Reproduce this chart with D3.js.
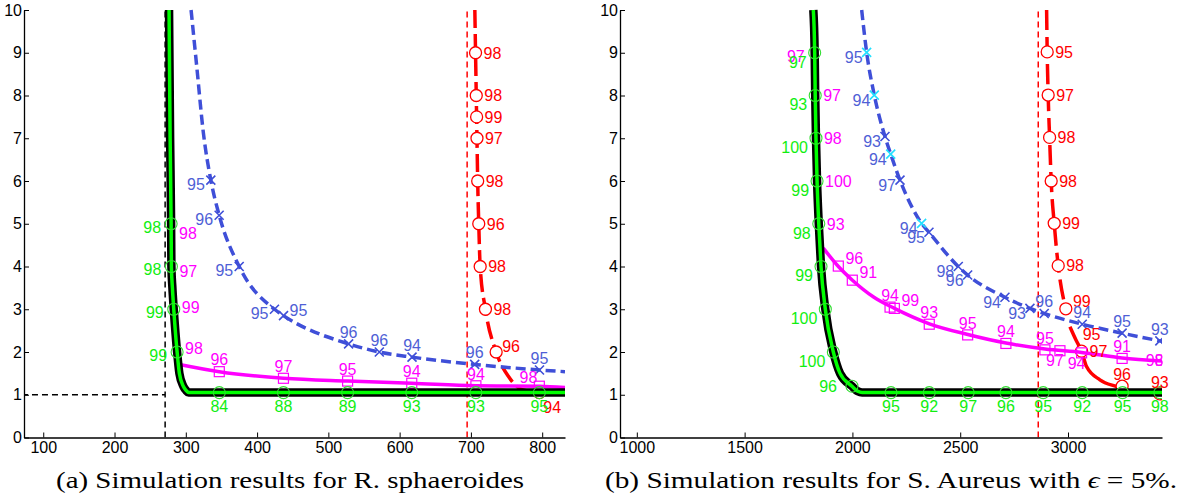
<!DOCTYPE html>
<html>
<head>
<meta charset="utf-8">
<script src="https://cdn.jsdelivr.net/npm/d3@7"></script>
<style>
  body { margin: 0; background: #fff; }
  svg { display: block; }
  .tick text { font: 16px 'Liberation Sans', Arial, sans-serif; fill: #000; }
  .lab { font: 16px 'Liberation Sans', Arial, sans-serif; }
</style>
</head>
<body>
<svg id="chart" width="1181" height="500"></svg>
<script>
// ---- (a) R. sphaeroides ----
const rsXTicks = [100, 200, 300, 400, 500, 600, 700, 800];
const rsCutX = 271, rsRedCutX = 694.7;

const rsCurveX = [276.5, 278, 279.4, 279.8, 281.2, 283.1, 287.8, 291, 296.5, 300.5, 304, 330, 832];
const rsCurveY = [10, 7, 5, 4, 3.5, 3, 2, 1.5, 1.2, 1.1, 1.05, 1.05, 1.05];

const rsGreenX = [279.4, 279.8, 283.1, 287.8, 347, 437, 527, 617, 707, 796];
const rsGreenY = [5, 4, 3, 2, 1.05, 1.05, 1.05, 1.05, 1.05, 1.05];
const rsGreenLab = ['98', '98', '99', '99', '84', '88', '89', '93', '93', '95'];

const rsMagLineX = [291, 347, 437, 527, 617, 707, 796, 832];
const rsMagLineY = [1.71, 1.54, 1.385, 1.32, 1.27, 1.21, 1.2, 1.17];
const rsMagX = [279.4, 279.8, 283.1, 287.8, 347, 437, 527, 617, 707, 796];
const rsMagY = [4.78, 3.9, 3.05, 2.09, 1.54, 1.385, 1.32, 1.27, 1.21, 1.2];
const rsMagLab = ['98', '97', '99', '98', '96', '97', '95', '94', '94', '98'];

const rsBlueLineX = [307.4, 315.4, 324.7, 335.1, 346.8, 374.9, 424.4, 437.1, 528.4, 571.5, 617.4, 705.3, 796.2, 832];
const rsBlueLineY = [10, 8.67, 7.12, 6.02, 5.2, 4.0, 3.0, 2.85, 2.19, 2.0, 1.88, 1.71, 1.58, 1.54];
const rsBlueX = [335.1, 346.8, 374.9, 424.4, 437.1, 528.4, 571.5, 617.4, 705.3, 796.2];
const rsBlueY = [6.02, 5.2, 4.0, 3.0, 2.85, 2.19, 2.0, 1.88, 1.71, 1.58];
const rsBlueLab = ['95', '96', '95', '95', '95', '96', '96', '94', '96', '95'];

const rsRedLineX = [705.5, 706.5, 707.5, 708, 708.5, 709.5, 711, 713, 720.4, 735.4, 753, 772, 796];
const rsRedLineY = [10, 9, 8, 7.5, 7, 6, 5, 4, 3, 2, 1.42, 1.12, 1.05];
const rsRedX = [706.5, 707.5, 708, 708.5, 709.5, 711, 713, 720.4, 735.4, 796];
const rsRedY = [9, 8, 7.5, 7, 6, 5, 4, 3, 2, 1.05];
const rsRedLab = ['98', '98', '99', '97', '98', '96', '98', '98', '96', '94'];

// ---- (b) S. Aureus ----
const saXTicks = [1000, 1500, 2000, 2500, 3000];
const saRedCutX = 2862;

const saCurveX = [1818.7, 1825, 1827.5, 1831, 1836, 1844, 1854.4, 1874.4, 1911.5, 1942.6, 1998, 2025, 2045, 2100, 3436];
const saCurveY = [10, 9, 8, 7, 6, 5, 4, 3, 2, 1.5, 1.2, 1.08, 1.05, 1.05, 1.05];

const saGreenX = [1825, 1827.5, 1831, 1836, 1844, 1854.4, 1874.4, 1911.5, 1998, 2179, 2356.5, 2537, 2712, 2885, 3066, 3253, 3426];
const saGreenY = [9, 8, 7, 6, 5, 4, 3, 2, 1.2, 1.05, 1.05, 1.05, 1.05, 1.05, 1.05, 1.05, 1.05];
const saGreenLab = ['97', '93', '100', '99', '98', '99', '100', '100', '96', '95', '92', '97', '96', '95', '92', '95', '98'];

const saMagLineX = [1865, 1935, 2000, 2100, 2195, 2357, 2535, 2712, 2893, 3063, 3251, 3436];
const saMagLineY = [4.43, 4.0, 3.68, 3.28, 3.02, 2.66, 2.41, 2.21, 2.07, 1.99, 1.86, 1.79];
const saMagX = [1825, 1827.5, 1831, 1836, 1844, 1934.6, 1999.5, 2174.6, 2194.5, 2356.5, 2534.5, 2712, 2893, 2962.6, 3063, 3251, 3434];
const saMagY = [9, 8, 7, 6, 5, 4.01, 3.68, 3.05, 3.02, 2.65, 2.40, 2.2, 2.05, 2.03, 1.98, 1.85, 1.81];
const saMagLab = ['97', '97', '98', '100', '93', '96', '91', '94', '99', '93', '95', '94', '95', '97', '94', '91', '98'];

const saBlueLineX = [2043, 2066, 2101.5, 2151, 2177.6, 2220.7, 2321, 2355, 2491, 2534.5, 2707.5, 2823.4, 2889.7, 3066, 3251, 3426, 3436];
const saBlueLineY = [10, 9.01, 8.01, 7.04, 6.63, 6.02, 5.01, 4.8, 4.0, 3.8, 3.28, 3.02, 2.9, 2.65, 2.44, 2.26, 2.25];
const saBlueX = saBlueLineX.slice(1, 16);
const saBlueY = saBlueLineY.slice(1, 16);
const saBlueLab = ['95', '94', '93', '94', '97', '94', '95', '98', '96', '94', '93', '96', '94', '95', '93'];
const saBlueCyan = [1, 1, 0, 1, 0, 1, 0, 0, 0, 0, 0, 0, 0, 0, 0];

const saRedUpX = [2900.8, 2903.5, 2908, 2914.6, 2922, 2936, 2954.6, 2990];
const saRedUpY = [10, 9.02, 8.01, 7.02, 6.0, 5.01, 4.02, 3.01];
const saRedLoX = [3009, 3037, 3063, 3086, 3148, 3225, 3301, 3370, 3426];
const saRedLoY = [2.59, 2.28, 2.02, 1.66, 1.35, 1.19, 1.07, 1.03, 1.02];
const saRedX = [2903.5, 2908, 2914.6, 2922, 2936, 2954.6, 2990, 3063, 3251, 3426];
const saRedY = [9.02, 8.01, 7.02, 6.0, 5.01, 4.02, 3.01, 2.02, 1.2, 1.02];
const saRedLab = ['95', '97', '98', '98', '99', '98', '99', '97', '96', '93'];
const saRedExtraLab = { x: 3040, y: 2.3, text: '95' };

// label placement: [anchor, dx, dy]
const place = {
  l: ['end', -10, 3], lb: ['end', -8, 9], l2: ['end', -15, 0], ll: ['end', -4, 5], lm: ['end', -6, 4],
  r: ['start', 8, 0], r2: ['start', 6, -6], rb: ['start', 4, 15], ar: ['middle', 16, -8],
  a: ['middle', 0, -12], al: ['end', -2, -9], b: ['middle', 0, 14], bm: ['middle', -5, 10], c: ['middle', -7, 0],
  rr: ['start', 6, -5]
};

const rsGreenPl = ['l', 'l', 'l', 'l', 'b', 'b', 'b', 'b', 'b', 'b'];
const rsMagPl = ['r', 'r', 'r', 'r', 'a', 'a', 'a', 'a', 'a', 'al'];
const rsBluePl = ['lm', 'lm', 'lm', 'lm', 'rr', 'a', 'a', 'a', 'a', 'a'];
const rsRedPl = ['r', 'r', 'r', 'r', 'r', 'r', 'r', 'r', 'r2', 'rb'];
const saGreenPl = ['lb', 'lb', 'lb', 'lb', 'lb', 'lb', 'lb', 'lb', 'l2', 'b', 'b', 'b', 'b', 'b', 'b', 'b', 'b'];
const saMagPl = ['l', 'r', 'r', 'r', 'r', 'ar', 'ar', 'a', 'ar', 'a', 'a', 'a', 'a', 'bm', 'bm', 'a', 'c'];
const saBluePl = ['ll', 'll', 'll', 'll', 'll', 'll', 'll', 'll', 'll', 'll', 'll', 'a', 'a', 'a', 'a'];
const saRedPl = ['r', 'r', 'r', 'r', 'r', 'r', 'ar', 'r', 'a', 'a'];

const GREEN = '#00ff00', GREEN_T = '#11ee11', MAG = '#ff00ff', BLUE = '#3f4fd8', BLUE_T = '#4f5fd6', RED = '#ff0000';

const svg = d3.select('#chart');
const yTop = 10, yBot = 437.5;
const zip = (xs, ys) => xs.map((v, i) => [v, ys[i]]);

function drawPanel(p) {
  const x = d3.scaleLinear().domain(p.xDomain).range([p.left, p.right]);
  const y = d3.scaleLinear().domain([0, 10]).range([yBot, yTop]);
  const line = d3.line().x((d) => x(d[0])).y((d) => y(d[1])).curve(d3.curveMonotoneX);

  const g = svg.append('g');
  g.append('clipPath').attr('id', 'clip-' + p.id).append('rect')
    .attr('x', p.left).attr('y', yTop - 1).attr('width', p.right - p.left).attr('height', yBot - yTop + 1);
  const plot = g.append('g').attr('clip-path', `url(#clip-${p.id})`);

  // reference lines
  p.refs.forEach((r) => {
    plot.append('line')
      .attr('x1', x(r.x1)).attr('x2', x(r.x2)).attr('y1', y(r.y1)).attr('y2', y(r.y2))
      .attr('stroke', r.color).attr('stroke-width', 1.5).attr('stroke-dasharray', '6,4');
  });

  // red
  p.red.lines.forEach((l) => {
    plot.append('path').attr('d', line(l.pts)).attr('fill', 'none')
      .attr('stroke', RED).attr('stroke-width', 3.5).attr('stroke-dasharray', l.dash || null);
  });
  plot.append('g').selectAll('circle').data(p.red.pts).join('circle')
    .attr('cx', (d) => x(d[0])).attr('cy', (d) => y(d[1])).attr('r', 6)
    .attr('fill', '#fff').attr('stroke', RED).attr('stroke-width', 1.3);

  // blue
  plot.append('path').attr('d', line(p.blue.line)).attr('fill', 'none')
    .attr('stroke', BLUE).attr('stroke-width', 3.5).attr('stroke-dasharray', '10,5');
  plot.append('g').selectAll('path').data(p.blue.pts).join('path')
    .attr('transform', (d) => `translate(${x(d[0])},${y(d[1])})`)
    .attr('d', 'M-4.5,-4.5L4.5,4.5M-4.5,4.5L4.5,-4.5')
    .attr('stroke', (d, i) => (p.blue.cyan && p.blue.cyan[i] ? '#22e0ff' : BLUE)).attr('stroke-width', 1.6);

  // magenta
  plot.append('path').attr('d', line(p.mag.line)).attr('fill', 'none')
    .attr('stroke', MAG).attr('stroke-width', 3.5);
  plot.append('g').selectAll('rect').data(p.mag.pts.filter((d, i) => i >= p.mag.firstSquare)).join('rect')
    .attr('x', (d) => x(d[0]) - 5).attr('y', (d) => y(d[1]) - 5).attr('width', 10).attr('height', 10)
    .attr('fill', 'none').attr('stroke', MAG).attr('stroke-width', 1.2);

  // black + green curve
  const cpath = line(p.curve);
  plot.append('path').attr('d', cpath).attr('fill', 'none').attr('stroke', '#000').attr('stroke-width', 8.5);
  plot.append('path').attr('d', cpath).attr('fill', 'none').attr('stroke', GREEN).attr('stroke-width', 3.5);
  plot.append('g').selectAll('circle').data(p.green.pts).join('circle')
    .attr('cx', (d) => x(d[0])).attr('cy', (d) => y(d[1])).attr('r', 6)
    .attr('fill', 'none').attr('stroke', '#33dd33').attr('stroke-width', 1.1);

  // labels
  const labels = g.append('g').attr('class', 'lab');
  function addLabels(pts, texts, pl, color) {
    pts.forEach((d, i) => {
      const q = place[pl[i]];
      labels.append('text')
        .attr('x', x(d[0]) + q[1]).attr('y', y(d[1]) + q[2]).attr('dy', '0.36em')
        .attr('text-anchor', q[0]).attr('fill', color).text(texts[i]);
    });
  }
  addLabels(p.red.pts, p.red.lab, p.red.pl, RED);
  if (p.red.extra) addLabels([[p.red.extra.x, p.red.extra.y]], [p.red.extra.text], ['rr'], RED);
  addLabels(p.blue.pts, p.blue.lab, p.blue.pl, BLUE_T);
  addLabels(p.mag.pts, p.mag.lab, p.mag.pl, MAG);
  addLabels(p.green.pts, p.green.lab, p.green.pl, GREEN_T);

  // axes
  const xa = g.append('g').attr('transform', `translate(0,${yBot})`)
    .call(d3.axisBottom(x).tickValues(p.xTicks).tickSizeInner(-5).tickSizeOuter(0).tickPadding(4).tickFormat(d3.format('d')));
  const ya = g.append('g').attr('transform', `translate(${p.left},0)`)
    .call(d3.axisLeft(y).tickValues(d3.range(0, 11)).tickSizeInner(-5).tickSizeOuter(0).tickPadding(2));
  [xa, ya].forEach((a) => {
    a.select('.domain').attr('stroke', '#000').attr('stroke-width', 1.3);
    a.selectAll('.tick line').attr('stroke', '#000').attr('stroke-width', 1);
  });
}

drawPanel({
  id: 'a', left: 24, right: 565, xDomain: [73, 832], xTicks: rsXTicks,
  refs: [
    { x1: rsCutX, x2: rsCutX, y1: 0, y2: 10, color: '#000' },
    { x1: 0, x2: rsCutX, y1: 1, y2: 1, color: '#000' },
    { x1: rsRedCutX, x2: rsRedCutX, y1: 0, y2: 10, color: RED }
  ],
  curve: zip(rsCurveX, rsCurveY),
  green: { pts: zip(rsGreenX, rsGreenY), lab: rsGreenLab, pl: rsGreenPl },
  mag: { line: zip(rsMagLineX, rsMagLineY), pts: zip(rsMagX, rsMagY), lab: rsMagLab, pl: rsMagPl, firstSquare: 4 },
  blue: { line: zip(rsBlueLineX, rsBlueLineY), pts: zip(rsBlueX, rsBlueY), lab: rsBlueLab, pl: rsBluePl },
  red: { lines: [{ pts: zip(rsRedLineX, rsRedLineY), dash: '18,6' }], pts: zip(rsRedX, rsRedY), lab: rsRedLab, pl: rsRedPl }
});

drawPanel({
  id: 'b', left: 620, right: 1162, xDomain: [922, 3436], xTicks: saXTicks,
  refs: [{ x1: saRedCutX, x2: saRedCutX, y1: 0, y2: 10, color: RED }],
  curve: zip(saCurveX, saCurveY),
  green: { pts: zip(saGreenX, saGreenY), lab: saGreenLab, pl: saGreenPl },
  mag: { line: zip(saMagLineX, saMagLineY), pts: zip(saMagX, saMagY), lab: saMagLab, pl: saMagPl, firstSquare: 5 },
  blue: { line: zip(saBlueLineX, saBlueLineY), pts: zip(saBlueX, saBlueY), lab: saBlueLab, pl: saBluePl, cyan: saBlueCyan },
  red: {
    lines: [{ pts: zip(saRedUpX, saRedUpY), dash: '20,7' }, { pts: zip(saRedLoX, saRedLoY) }],
    pts: zip(saRedX, saRedY), lab: saRedLab, pl: saRedPl, extra: saRedExtraLab
  }
});

// captions
const capFont = "23px 'Liberation Serif', serif";
svg.append('text').attr('x', 290).attr('y', 488).attr('text-anchor', 'middle')
  .style('font', capFont).attr('textLength', 468).attr('lengthAdjust', 'spacingAndGlyphs')
  .text('(a) Simulation results for R. sphaeroides');
const capB = svg.append('text').attr('x', 891).attr('y', 488).attr('text-anchor', 'middle')
  .style('font', capFont).attr('textLength', 572).attr('lengthAdjust', 'spacingAndGlyphs');
capB.append('tspan').text('(b) Simulation results for S. Aureus with ');
capB.append('tspan').style('font-style', 'italic').text('ϵ');
capB.append('tspan').text(' = 5%.');
</script>
</body>
</html>
